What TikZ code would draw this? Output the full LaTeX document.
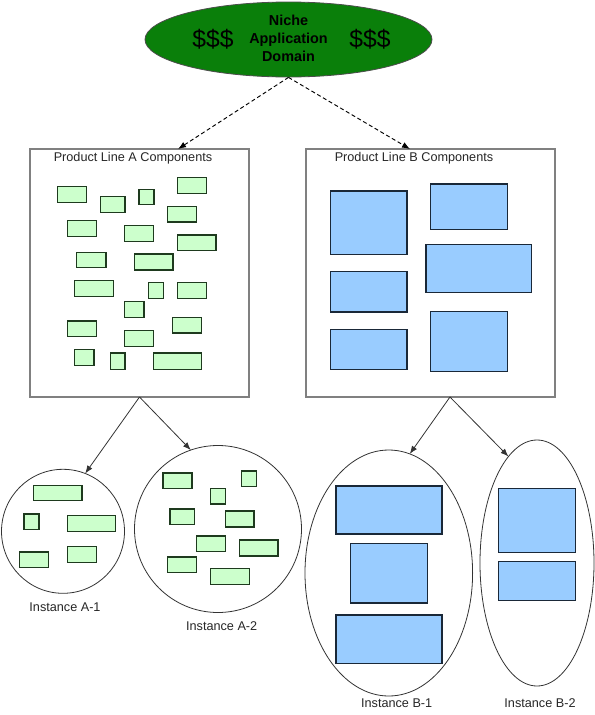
\documentclass[tikz,border=0pt]{standalone}
\usepackage{fontspec}
\setmainfont{Liberation Sans}
\usetikzlibrary{arrows.meta,shapes.geometric}
\definecolor{domgreen}{HTML}{0A7F0A}
\definecolor{lgreen}{HTML}{CCFFCC}
\definecolor{gedge}{HTML}{1E3A1E}
\definecolor{lblue}{HTML}{99CCFF}
\definecolor{bedge}{HTML}{1A2838}
\definecolor{boxgray}{HTML}{808080}
\definecolor{lnk}{HTML}{333333}
\newcommand\comp[6]{\node[#1, minimum width={(#4-#2)*0.75pt}, minimum height={(#5-#3)*0.75pt}] (#6) at ({(#2+#4)/2},{(#3+#5)/2}) {};}
\tikzset{
  gc/.style={draw=gedge, fill=lgreen, line width=1.1pt, inner sep=0pt, outer sep=0pt, rectangle},
  bc/.style={draw=bedge, fill=lblue, line width=1.1pt, inner sep=0pt, outer sep=0pt, rectangle},
  plbox/.style={draw=boxgray, line width=0.8pt, inner sep=0pt, outer sep=0pt, rectangle},
  inst/.style={draw=lnk, line width=0.6pt, ellipse, inner sep=0pt, outer sep=0pt},
  lbl/.style={font=\fontsize{9.5}{11}\selectfont, text=black!85, inner sep=0pt},
  dashar/.style={draw=black, line width=0.7pt, dash pattern=on 3pt off 2pt, -{Latex[length=6pt,width=4.5pt]}},
  solar/.style={draw=lnk, line width=0.6pt, -{Latex[length=6pt,width=4.5pt]}},
}
\begin{document}
\begin{tikzpicture}[x=0.75pt,y=-0.75pt]
\useasboundingbox (0,0) rectangle (595,715);
% domain
\node[draw=black!70, line width=0.6pt, fill=domgreen, ellipse, inner sep=0pt, minimum width=287*0.75pt, minimum height=75*0.75pt] (dom) at (288.5,39.5) {};
\node[font=\bfseries\fontsize{10.8}{13.5}\selectfont, text=black, align=center, inner sep=0pt] (domt) at (288.5,38.5) {Niche\\Application\\Domain};
\node[font=\fontsize{18.5}{20}\selectfont, text=black, inner sep=0pt] (dl) at (213,39) {\$\$\$};
\node[font=\fontsize{18.5}{20}\selectfont, text=black, inner sep=0pt] (dr) at (370,39) {\$\$\$};
% product line boxes
\comp{plbox}{30}{149}{249}{397}{boxA}
\comp{plbox}{306}{149}{555}{397}{boxB}
\node[lbl] (ta) at (133,158) {Product Line A Components};
\node[lbl] (tb) at (414,158) {Product Line B Components};
% A components
\comp{gc}{57.3}{186.7}{86.7}{202.7}{a01}
\comp{gc}{100.7}{196.7}{125}{212.3}{a02}
\comp{gc}{139}{189.3}{154}{204.7}{a03}
\comp{gc}{177.3}{177.7}{206.7}{193.3}{a04}
\comp{gc}{167.7}{206.3}{196.7}{222}{a05}
\comp{gc}{67.3}{220.3}{96.3}{236.3}{a06}
\comp{gc}{124.7}{225.3}{153.7}{241.3}{a07}
\comp{gc}{177.3}{235}{216}{250.7}{a08}
\comp{gc}{76.7}{252.3}{106}{267.7}{a09}
\comp{gc}{134.3}{254}{173}{270}{a10}
\comp{gc}{74.3}{280.7}{113.3}{296.3}{a11}
\comp{gc}{148.7}{282.7}{163.3}{298.7}{a12}
\comp{gc}{177.3}{282.7}{206.7}{298.7}{a13}
\comp{gc}{124.7}{301.7}{144}{317.7}{a14}
\comp{gc}{67.3}{321}{96.3}{336.7}{a15}
\comp{gc}{172.7}{317.3}{201.7}{333}{a16}
\comp{gc}{124.7}{330.3}{153.7}{346.3}{a17}
\comp{gc}{74.3}{349.7}{94}{365.3}{a18}
\comp{gc}{110.3}{353}{125}{369.3}{a19}
\comp{gc}{153.3}{353}{201.7}{369.3}{a20}
% B components
\comp{bc}{330.3}{191}{407}{254.7}{b01}
\comp{bc}{430.3}{184}{507.3}{229.3}{b02}
\comp{bc}{426}{244.3}{531.3}{292.7}{b03}
\comp{bc}{330.3}{271.3}{407}{312}{b04}
\comp{bc}{330.3}{329.3}{407}{369.3}{b05}
\comp{bc}{430.3}{311.3}{507.3}{371.3}{b06}
% instances
\node[inst, minimum width=123*0.75pt, minimum height=124*0.75pt] (ia1) at (63,531.3) {};
\node[inst, minimum width=167*0.75pt, minimum height=167*0.75pt] (ia2) at (218,529) {};
\node[inst, minimum width=167.6*0.75pt, minimum height=246*0.75pt] (ib1) at (388.8,573) {};
\node[inst, minimum width=114*0.75pt, minimum height=246*0.75pt] (ib2) at (537,563) {};
\node[lbl] (la1) at (65,606.7) {Instance A-1};
\node[lbl] (la2) at (221.7,625.7) {Instance A-2};
\node[lbl] (lb1) at (396.7,703.3) {Instance B-1};
\node[lbl] (lb2) at (540,703.3) {Instance B-2};
% A-1 components
\comp{gc}{33.7}{485.3}{82}{500.7}{c1}
\comp{gc}{24}{514}{39}{529.3}{c2}
\comp{gc}{67.3}{515.7}{115.7}{531.7}{c3}
\comp{gc}{19.3}{552}{48.3}{567.7}{c4}
\comp{gc}{67.3}{546.3}{96.3}{562.3}{c5}
% A-2 components
\comp{gc}{163}{473}{192}{488.7}{d1}
\comp{gc}{241.7}{471}{256.7}{486.7}{d2}
\comp{gc}{210.7}{488.3}{225.7}{504}{d3}
\comp{gc}{170}{509}{194.3}{524.7}{d4}
\comp{gc}{225.3}{511}{254}{527}{d5}
\comp{gc}{196.7}{536}{225.3}{551.7}{d6}
\comp{gc}{239.3}{540}{278}{556}{d7}
\comp{gc}{167.7}{557}{196.7}{572.7}{d8}
\comp{gc}{210.7}{568.7}{249.3}{584.3}{d9}
% B-1 components
\comp{bc}{336}{486}{442}{534}{e1}
\comp{bc}{350.3}{543.3}{427.3}{603}{e2}
\comp{bc}{336}{615}{442}{663.3}{e3}
% B-2 components
\comp{bc}{498.7}{488.7}{575.7}{552.3}{f1}
\comp{bc}{498.7}{561.3}{575.7}{600.7}{f2}
% connectors
\draw[dashar] (dom.south) -- ([xshift=28.9pt]boxA.north);
\draw[dashar] (dom.south) -- ([xshift=-15.4pt]boxB.north);
\draw[solar] (boxA.south) -- (ia1.69);
\draw[solar] (boxA.south) -- (ia2.109);
\draw[solar] ([xshift=14.6pt]boxB.south) -- (ib1.80);
\draw[solar] ([xshift=14.6pt]boxB.south) -- (ib2.105);
\end{tikzpicture}
\end{document}
